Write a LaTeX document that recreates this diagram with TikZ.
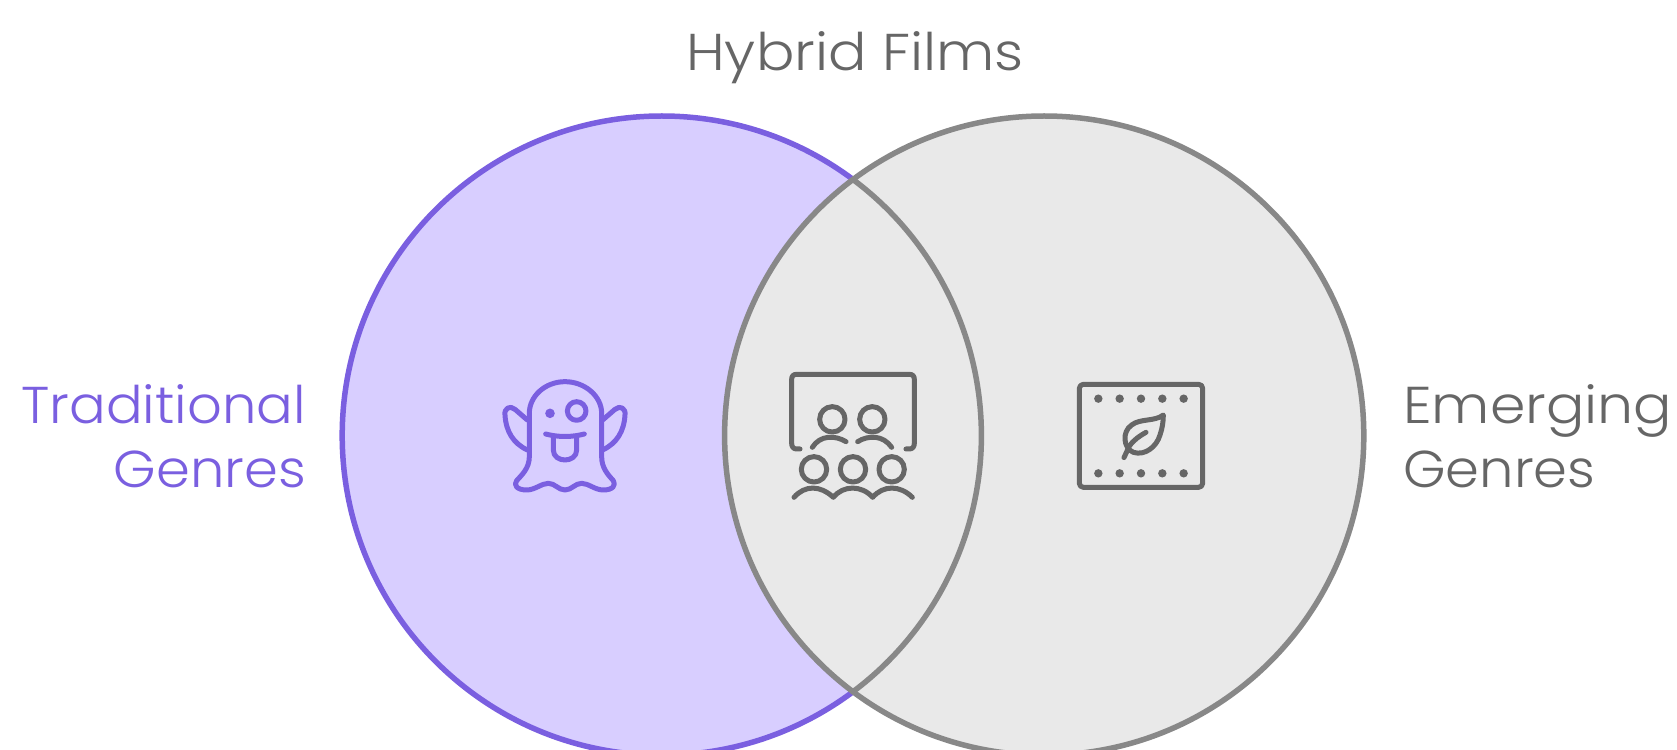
\documentclass[tikz,border=0pt]{standalone}
\usepackage{fontspec}
\setmainfont{Poppins Light}[FakeStretch=1.1]
\newfontfamily\tightfont{Poppins Light}[FakeStretch=1.05]
\definecolor{violetline}{HTML}{7A5FE0}
\definecolor{violetfill}{HTML}{D8CEFF}
\definecolor{greyline}{HTML}{888888}
\definecolor{greyfill}{HTML}{E9E9E9}
\definecolor{greytext}{HTML}{666666}
\tikzset{
  vennlabel/.style = {font=\fontsize{52}{64}\selectfont, inner sep=0pt},
  tightlabel/.style = {font=\fontsize{52}{64}\selectfont\tightfont, inner sep=0pt},
  iconline/.style = {line width=5bp, line cap=round, line join=round},
  vennline/.style = {line width=5.5bp},
}
\begin{document}
\begin{tikzpicture}[x=1bp, y=-1bp]
  % Page
  \useasboundingbox (0,0) rectangle (1677,750);
  \clip (0,0) rectangle (1677,750);
  \fill[white] (0,0) rectangle (1677,750);
  %%+++++++++++++++++++++++++
  % Variables
  \pgfmathsetmacro{\Rcirc}{319.6}
  \pgfmathsetmacro{\Acirc}{acos(191.2/319.6)}
  \coordinate (leftc) at (661.8,435.6);
  \coordinate (rightc) at (1044.2,435.6);
  %%+++++++++++++++++++++++++
  % Circles
  \draw[vennline, fill=violetfill, draw=violetline] (leftc) circle[radius=\Rcirc bp];
  \draw[vennline, fill=greyfill, draw=greyline] (rightc) circle[radius=\Rcirc bp];
  \draw[vennline, greyline] (leftc) ++(-\Acirc:\Rcirc bp) arc[start angle=-\Acirc, end angle=\Acirc, radius=\Rcirc bp];
  % Labels
  \node[vennlabel, greytext, anchor=base] (hybrid) at (855,71) {Hybrid Films};
  \node[tightlabel, violetline, anchor=base east] (tradi) at (306,423) {Traditional};
  \node[tightlabel, violetline, anchor=base east] (tradii) at (306,487) {Genres};
  \node[vennlabel, greytext, anchor=base west] (emergi) at (1403,423) {Emerging};
  \node[tightlabel, greytext, anchor=base west] (emergii) at (1403,487) {Genres};
  % Ghost
  \begin{scope}[shift={(480,360)}, x=0.3333bp, y=-0.3333bp, violetline, iconline]
    \draw (148,290) -- (148,160) .. controls (148,108) and (196,65) .. (255,65)
      .. controls (314,65) and (365,108) .. (365,160) -- (365,290)
      .. controls (365,325) and (385,345) .. (400,362)
      .. controls (408,375) and (400,390) .. (370,390)
      .. controls (345,390) and (325,370) .. (305,370)
      .. controls (285,370) and (275,390) .. (255,390)
      .. controls (235,390) and (225,370) .. (205,370)
      .. controls (185,370) and (165,390) .. (140,390)
      .. controls (110,390) and (100,375) .. (110,362)
      .. controls (125,345) and (148,325) .. (148,290);
    \draw (142,180) -- (105,148) .. controls (90,135) and (72,145) .. (75,165)
      .. controls (78,215) and (100,250) .. (142,270);
    \draw (368,180) -- (405,148) .. controls (420,135) and (438,145) .. (435,165)
      .. controls (432,215) and (410,250) .. (368,270);
    \draw (290,153) circle[radius=9.3bp];
    \fill (210,160) circle[radius=4.8bp];
    \draw (197,222) .. controls (235,232) and (275,232) .. (313,222);
    \draw (220,232) -- (220,270) .. controls (220,310) and (290,310) .. (290,270) -- (290,232);
  \end{scope}
  % Audience
  \begin{scope}[shift={(775,360)}, x=0.3333bp, y=-0.3333bp, greytext, iconline]
    \draw (75,267) -- (65,267) .. controls (55,267) and (50,260) .. (50,250) -- (50,58)
      .. controls (50,48) and (55,43) .. (65,43) -- (403,43)
      .. controls (413,43) and (418,48) .. (418,58) -- (418,250)
      .. controls (418,260) and (413,267) .. (403,267) -- (393,267);
    \foreach \xhead in {172,292}
      \draw (\xhead,178) circle[radius=12.7bp];
    \draw (112,262) .. controls (135,225) and (180,225) .. (213,245);
    \draw (248,245) .. controls (280,225) and (325,225) .. (350,262);
    \foreach \xhead in {117,234,350}
      \draw (\xhead,328) circle[radius=12.7bp];
    \draw (57,412) .. controls (90,375) and (135,375) .. (175,412)
      .. controls (205,375) and (260,375) .. (293,412)
      .. controls (325,375) and (375,375) .. (412,412);
  \end{scope}
  % Film
  \begin{scope}[shift={(1060,370)}, x=0.3333bp, y=-0.3333bp, greytext, iconline]
    \draw[rounded corners=4bp] (58,43) rectangle (428,352);
    \foreach \xdot in {115,179,243,307,371} {
      \fill (\xdot,86) circle[radius=4.2bp];
      \fill (\xdot,310) circle[radius=4.2bp];
    }
    \draw (310,135) .. controls (285,155) and (240,145) .. (215,165)
      .. controls (185,185) and (190,235) .. (220,247)
      .. controls (255,258) and (290,230) .. (300,195)
      .. controls (307,175) and (310,155) .. (310,135) -- cycle;
    \draw (192,263) -- (207,230) .. controls (220,210) and (240,197) .. (258,187);
  \end{scope}
\end{tikzpicture}
\end{document}
